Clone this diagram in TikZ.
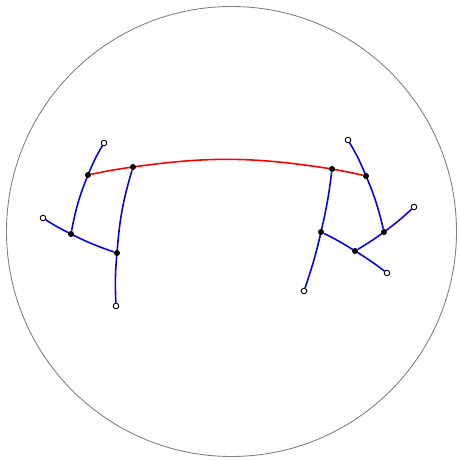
\documentclass[tikz,border=0pt]{standalone}
\usepackage{xcolor}
\usepackage{tikz}
\usetikzlibrary{backgrounds}

\begin{document}
\begin{tikzpicture}[
    x=0.02cm, y=0.02cm,
    hit/.style={circle, fill=black, inner sep=0pt, minimum size=3.4pt},
    free/.style={circle, draw=black, fill=white, line width=0.5pt, inner sep=0pt, minimum size=3.2pt},
    branch/.style={blue, line width=0.9pt},
    geo/.style={red, line width=0.9pt}
]
\useasboundingbox (0,0) rectangle (459,460);

% disk
\draw[gray, line width=0.5pt] (231.5,228.5) circle (225);

% left tree
\node[free] (ltop) at (104,317) {};
\node[hit] (lup) at (88,285) {};
\node[hit] (lin) at (133,293) {};
\node[free] (lout) at (43,242) {};
\node[hit] (lmid) at (71,226) {};
\node[hit] (ljoin) at (117,207) {};
\node[free] (lbot) at (116,154) {};

% right tree
\node[free] (rtop) at (348,320) {};
\node[hit] (rin) at (332,291) {};
\node[hit] (rup) at (366,284) {};
\node[free] (rout) at (414,253) {};
\node[hit] (rjoin) at (384,228) {};
\node[hit] (rmid) at (321,228) {};
\node[hit] (rlow) at (355,209) {};
\node[free] (rend) at (387,187) {};
\node[free] (rbot) at (304,169) {};

\begin{scope}[on background layer]
% left branches
\draw[branch] (ltop) to[bend right=4] (lup) to[bend right=6] (lmid);
\draw[branch] (lin) to[bend right=6] (ljoin) to[bend right=4] (lbot);
\draw[branch] (lout) to[bend right=3] (lmid) to[bend right=4] (ljoin);

% right branches
\draw[branch] (rtop) to[bend left=4] (rup) to[bend left=5] (rjoin);
\draw[branch] (rin) to[bend left=3] (rmid) to[bend left=3] (rbot);
\draw[branch] (rmid) to[bend left=3] (rlow) to[bend left=3] (rend);
\draw[branch] (rout) to[bend left=3] (rjoin) to[bend left=3] (rlow);

% geodesic
\draw[geo] (lup) to[bend left=2] (lin) to[bend left=8.5] (rin) to[bend left=1.5] (rup);
\end{scope}

\end{tikzpicture}
\end{document}
